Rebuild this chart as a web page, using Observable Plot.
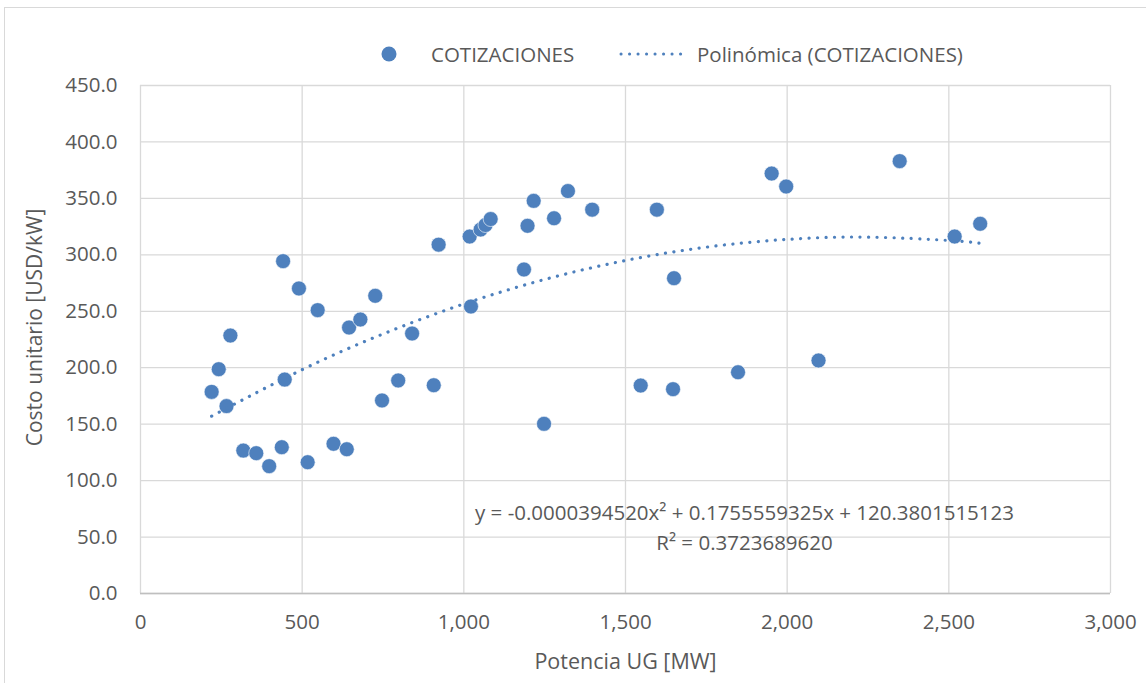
<!DOCTYPE html>
<html><head><meta charset="utf-8">
<script src="https://cdn.jsdelivr.net/npm/d3@7"></script>
<script src="https://cdn.jsdelivr.net/npm/@observablehq/plot@0.6"></script>
<style>
body{margin:0;background:#fff;font-family:"Open Sans",sans-serif;}
#wrap{position:relative;width:1146px;height:683px;overflow:hidden;background:#fff;}
#frame{position:absolute;left:4px;top:7px;width:1200px;height:700px;border-left:1px solid #d9d9d9;border-top:1px solid #d9d9d9;box-sizing:border-box;}
#chart{position:absolute;left:0;top:0;}
.leg{position:absolute;top:54px;transform:translateY(-50%);font-size:20.5px;color:#595959;white-space:nowrap;line-height:1;}
</style></head>
<body>
<div id="wrap">
  <div id="frame"></div>
  <div id="chart"></div>
  <svg class="leg" style="left:381px" width="16" height="16"><circle cx="8" cy="8" r="7.5" fill="#4e80bd"/></svg>
  <div class="leg" style="left:431px">COTIZACIONES</div>
  <svg class="leg" style="left:619px" width="68" height="6"><line x1="2" y1="3" x2="66" y2="3" stroke="#4e80bd" stroke-width="3" stroke-linecap="round" stroke-dasharray="0.1 8.4"/></svg>
  <div class="leg" style="left:697px">Polinómica (COTIZACIONES)</div>
</div>
<script>
const potencia = [220,242,266,278,318,358,398,437,441,446,490,517,548,597,638,645,680,726,747,797,840,907,922,1018,1022,1052,1067,1083,1186,1197,1216,1248,1279,1322,1397,1547,1597,1647,1650,1848,1952,1997,2097,2348,2518,2597];
const costo = [178.6,198.7,166,228.5,126.6,124.3,112.8,129.6,294.4,189.5,270.2,116.3,251,132.6,127.8,235.6,242.7,263.7,171,188.7,230.3,184.5,309,316.2,254.2,322.4,326.4,331.7,287,325.7,347.8,150.3,332.4,356.5,340,184.2,340,181,279.3,196,372,360.5,206.4,383,316.2,327.5];
const trendX = [220,500,750,1000,1250,1500,1750,2000,2250,2500,2597];
const trendY = [157.1,198.3,229.9,256.5,278.2,295.0,306.8,313.7,315.7,312.7,310.2];
const xTicks = [0,500,1000,1500,2000,2500,3000];
const yTicks = [0,50,100,150,200,250,300,350,400,450];
const xTitle = "Potencia UG [MW]";
const yTitle = "Costo unitario [USD/kW]";
const equation = "y = -0.0000394520x² + 0.1755559325x + 120.3801515123\nR² = 0.3723689620";

const points = potencia.map((x, i) => ({x, y: costo[i]}));
const trend = trendX.map((x, i) => ({x, y: trendY[i]}));
const blue = "#4e80bd";
const txt = "#595959";
const fs = 20.5;

const chart = Plot.plot({
  width: 1146, height: 683,
  marginLeft: 140, marginRight: 36, marginTop: 85, marginBottom: 90,
  style: {fontFamily: "'Open Sans', sans-serif", fontSize: fs + "px", color: txt, background: "transparent", overflow: "visible"},
  x: {domain: [0, 3000], label: null},
  y: {domain: [0, 450], label: null},
  marks: [
    Plot.gridX(xTicks, {stroke: "#d9d9d9", strokeOpacity: 1, strokeWidth: 1.3}),
    Plot.gridY(yTicks, {stroke: "#d9d9d9", strokeOpacity: 1, strokeWidth: 1.3}),
    Plot.ruleY([0], {stroke: "#bfbfbf", strokeWidth: 1.3}),
    Plot.axisX(xTicks, {tickSize: 0, tickPadding: 21, tickFormat: d3.format(","), fill: txt, fontSize: fs, label: null}),
    Plot.axisY(yTicks, {tickSize: 0, tickPadding: 23, tickFormat: d => d.toFixed(1), fill: txt, fontSize: fs, label: null}),
    Plot.dot(points, {x: "x", y: "y", r: 7.5, fill: blue, stroke: "white", strokeWidth: 0.6}),
    Plot.line(trend, {x: "x", y: "y", curve: "natural", stroke: blue, strokeWidth: 3.2, strokeDasharray: "0.1 8.4", strokeLinecap: "round"}),
    Plot.text([yTitle], {frameAnchor: "left", dx: -105, dy: -12, rotate: -90, fill: txt, fontSize: 21, textAnchor: "middle", lineAnchor: "middle"}),
    Plot.text([xTitle], {frameAnchor: "bottom", dy: 69, fill: txt, fontSize: 21.5, textAnchor: "middle", lineAnchor: "middle"}),
    Plot.text([equation], {frameAnchor: "bottom", dx: 119, dy: -68, fill: txt, fontSize: fs, textAnchor: "middle", lineAnchor: "middle", lineHeight: 1.46})
  ]
});
document.getElementById("chart").appendChild(chart);
</script>
</body></html>
